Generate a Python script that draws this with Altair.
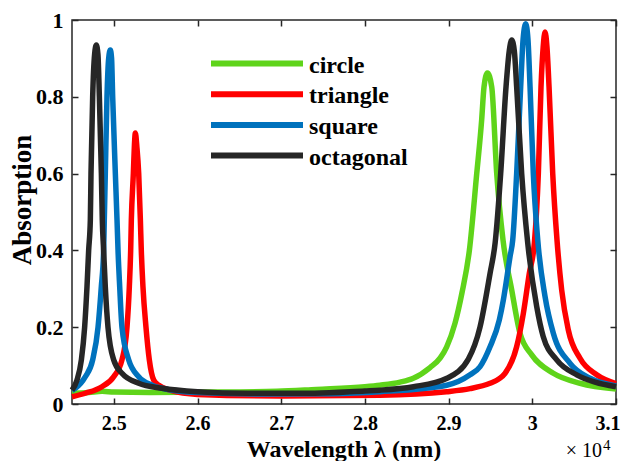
import altair as alt
import pandas as pd

# wavelength in units of 1e4 nm, absorption 0..1
circle_x = [2.450, 2.470, 2.486, 2.500, 2.543, 2.600, 2.695, 2.742, 2.800, 2.818,
            2.842, 2.8578, 2.8778, 2.8900, 2.8977, 2.9076, 2.9160, 2.9248, 2.9336, 2.9395,
            2.9423, 2.9463, 2.9515, 2.9575, 2.9650, 2.9754, 2.9853, 2.9993, 3.0251, 3.0570,
            3.1000]
circle_y = [0.028, 0.030, 0.033, 0.031, 0.030, 0.031, 0.033, 0.038, 0.045, 0.049,
            0.057, 0.067, 0.095, 0.120, 0.149, 0.210, 0.290, 0.400, 0.600, 0.740,
            0.826, 0.862, 0.826, 0.600, 0.427, 0.297, 0.184, 0.128, 0.080, 0.054,
            0.039]

triangle_x = [2.450, 2.4659, 2.4858, 2.4998, 2.5097, 2.5157, 2.5185, 2.5201, 2.5209, 2.5233,
              2.5245, 2.5257, 2.5275, 2.5297, 2.5317, 2.5328, 2.5348, 2.5384, 2.5424, 2.5476,
              2.5536, 2.567, 2.600, 2.700, 2.818, 2.8977, 2.9256, 2.9495, 2.9606, 2.9674,
              2.9813, 2.9893, 2.9964, 3.0025, 3.0072, 3.0104, 3.0130, 3.0152, 3.0175, 3.0200,
              3.0244, 3.0295, 3.0351, 3.0430, 3.0570, 3.0769, 3.1000]
triangle_y = [0.019, 0.028, 0.045, 0.071, 0.115, 0.200, 0.305, 0.400, 0.479, 0.600,
              0.670, 0.706, 0.670, 0.600, 0.479, 0.400, 0.305, 0.200, 0.115, 0.0625,
              0.049, 0.036, 0.025, 0.021, 0.023, 0.032, 0.040, 0.054, 0.066, 0.080,
              0.149, 0.236, 0.340, 0.420, 0.600, 0.826, 0.930, 0.969, 0.930, 0.826,
              0.600, 0.427, 0.297, 0.193, 0.119, 0.076, 0.053]

square_x = [2.450, 2.454, 2.4659, 2.4747, 2.4811, 2.4850, 2.4878, 2.4886, 2.4898, 2.4918,
            2.4938, 2.4958, 2.4973, 2.4986, 2.5018, 2.5038, 2.5050, 2.5070, 2.5097, 2.5177,
            2.5297, 2.5456, 2.5575, 2.600, 2.680, 2.760, 2.818, 2.8977, 2.9256, 2.9375,
            2.9495, 2.9606, 2.9654, 2.9734, 2.9766, 2.9813, 2.9861, 2.9890, 2.9921, 2.9948,
            2.9973, 3.0012, 3.0065, 3.0152, 3.0251, 3.0451, 3.0690, 3.1000]
square_y = [0.036, 0.041, 0.071, 0.115, 0.200, 0.305, 0.400, 0.479, 0.600, 0.800,
            0.900, 0.922, 0.900, 0.800, 0.600, 0.479, 0.400, 0.305, 0.200, 0.115,
            0.071, 0.049, 0.041, 0.030, 0.026, 0.027, 0.032, 0.049, 0.076, 0.097,
            0.149, 0.219, 0.271, 0.384, 0.427, 0.600, 0.826, 0.950, 0.990, 0.950,
            0.826, 0.600, 0.427, 0.280, 0.184, 0.106, 0.067, 0.047]

octagonal_x = [2.450, 2.456, 2.4612, 2.4651, 2.4679, 2.4699, 2.4719, 2.4727, 2.4747, 2.4770,
               2.4791, 2.4810, 2.4827, 2.4851, 2.4862, 2.4878, 2.4898, 2.4930, 2.4998, 2.5097,
               2.5297, 2.5575, 2.600, 2.660, 2.740, 2.800, 2.818, 2.858, 2.898, 2.9236,
               2.9375, 2.9495, 2.9556, 2.9622, 2.9686, 2.9725, 2.9754, 2.9785, 2.9813, 2.9873,
               2.9945, 3.0053, 3.0131, 3.0292, 3.0531, 3.0750, 3.1000]
octagonal_y = [0.036, 0.0625, 0.115, 0.200, 0.305, 0.400, 0.479, 0.600, 0.800, 0.910,
               0.935, 0.910, 0.800, 0.600, 0.479, 0.400, 0.305, 0.200, 0.115, 0.080,
               0.054, 0.041, 0.032, 0.028, 0.028, 0.034, 0.036, 0.045, 0.067, 0.117,
               0.200, 0.340, 0.420, 0.600, 0.826, 0.920, 0.948, 0.920, 0.826, 0.600,
               0.420, 0.253, 0.175, 0.115, 0.076, 0.057, 0.045]

series_names = ["circle", "triangle", "square", "octagonal"]
series_colors = ["#5FD41A", "#FF0000", "#0072BD", "#262626"]
series_x = [circle_x, triangle_x, square_x, octagonal_x]
series_y = [circle_y, triangle_y, square_y, octagonal_y]

x_ticks = [2.5, 2.6, 2.7, 2.8, 2.9, 3.0, 3.1]
y_ticks = [0, 0.2, 0.4, 0.6, 0.8, 1.0]
x_title = "Wavelength λ (nm)"
y_title = "Absorption"

FONT = "Liberation Serif"
xscale = alt.Scale(domain=[2.45, 3.1], nice=False, zero=False)
yscale = alt.Scale(domain=[0, 1], nice=False, zero=False)

bottom_axis = alt.Axis(orient="bottom", values=x_ticks, format=".1~f", tickSize=6, offset=-6,
                       domain=False, labelPadding=9.5, labelFlush=False, labelOverlap=False,
                       labelFontSize=20,
                       labelAlign={"expr": "datum.value > 3.05 ? 'right' : 'center'"},
                       labelOffset={"expr": "datum.value > 3.05 ? 4 : 0"},
                       title=None)
left_axis = alt.Axis(orient="left", values=y_ticks, format=".1~f", tickSize=6, offset=-6,
                     domain=False, labelPadding=9, labelFlush=False, labelOverlap=False,
                     title=None)
top_axis = alt.Axis(orient="top", values=x_ticks, tickSize=6, offset=-6, domain=False,
                    labels=False, title=None)
right_axis = alt.Axis(orient="right", values=y_ticks, tickSize=6, offset=-6, domain=False,
                      labels=False, title=None)

layers = []
for i, (name, color, xs, ys) in enumerate(zip(series_names, series_colors, series_x, series_y)):
    d = pd.DataFrame({"wl": xs, "ab": ys})
    enc_x = alt.X("wl:Q", scale=xscale, axis=bottom_axis if i == 0 else None)
    enc_y = alt.Y("ab:Q", scale=yscale, axis=left_axis if i == 0 else None)
    layers.append(
        alt.Chart(d).mark_line(strokeWidth=5.5, interpolate="monotone", color=color)
        .encode(x=enc_x, y=enc_y)
    )

# frame axes (top/right)
d0 = pd.DataFrame({"wl": circle_x, "ab": circle_y})
layers.append(
    alt.Chart(d0).mark_line(opacity=0).encode(
        x=alt.X("wl:Q", scale=xscale, axis=top_axis),
        y=alt.Y("ab:Q", scale=yscale, axis=right_axis),
    )
)

dummy = pd.DataFrame({"k": [0]})

# axis titles
layers.append(
    alt.Chart(dummy).mark_text(text=x_title, font=FONT, fontWeight="bold", fontSize=24,
                               align="center", baseline="alphabetic", color="#000000")
    .encode(x=alt.value(272), y=alt.value(437))
)
layers.append(
    alt.Chart(dummy).mark_text(text=y_title, font=FONT, fontWeight="bold", fontSize=27,
                               align="center", baseline="middle", angle=270, color="#000000")
    .encode(x=alt.value(-49), y=alt.value(180))
)

# legend (manual, no frame)
for i, (name, color) in enumerate(zip(series_names, series_colors)):
    yy = 43.5 + 30.7 * i
    layers.append(
        alt.Chart(dummy).mark_rule(strokeWidth=6, color=color).encode(
            x=alt.value(139), x2=alt.value(231), y=alt.value(yy)
        )
    )
    layers.append(
        alt.Chart(dummy).mark_text(text=name, font=FONT, fontWeight="bold", fontSize=24,
                                   align="left", baseline="alphabetic", color="#000000")
        .encode(x=alt.value(237), y=alt.value(yy + 9))
    )

# x10^4 multiplier
layers.append(
    alt.Chart(dummy).mark_text(text="× 10", font=FONT, fontSize=20, align="right",
                               baseline="alphabetic", color="#000000")
    .encode(x=alt.value(530), y=alt.value(436.8))
)
layers.append(
    alt.Chart(dummy).mark_text(text="4", font=FONT, fontSize=15, align="left",
                               baseline="alphabetic", color="#000000")
    .encode(x=alt.value(531), y=alt.value(430))
)

chart = (
    alt.layer(*layers)
    .resolve_axis(x="independent", y="independent")
    .properties(width=544, height=384,
                padding={"left": 64, "top": 12, "right": 6, "bottom": 57},
                autosize=alt.AutoSizeParams(type="none"))
    .configure_view(stroke="#262626", strokeWidth=1.5)
    .configure_axis(labelFont=FONT, labelFontWeight="bold", labelFontSize=22, labelColor="#000000",
                    tickColor="#262626", tickWidth=1.5, grid=False)
)

chart.save("out.html", embed_options={"renderer": "svg", "actions": False})
